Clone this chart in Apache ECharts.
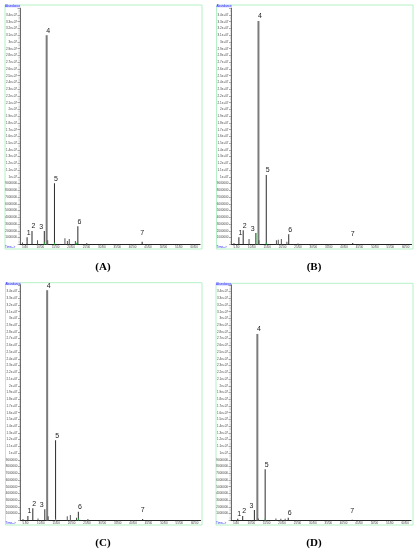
<!DOCTYPE html>
<html lang="en">
<head>
<meta charset="UTF-8">
<title>GC-MS chromatograms</title>
<script src="https://cdn.jsdelivr.net/npm/echarts@6/dist/echarts.min.js"></script>
<style>
    html, body { margin: 0; padding: 0; background: #fff; }
    #chart { width: 418px; height: 550px; }
</style>
</head>
<body>
<div id="chart"></div>
<script>
    // numbers written above the labelled peaks
    var peakNames = ['1', '2', '3', '4', '5', '6', '7'];

    // labelled peaks: retention time (min) and abundance, one pair per sample
    var timesA   = [5.7, 7.3, 11.3, 11.9, 14.6, 22.2, 43.1];
    var heightsA = [1050000, 2000000, 2000000, 31000000, 9050000, 2700000, 400000];
    var timesB   = [5.8, 7.2, 11.3, 12.0, 14.7, 22.0, 42.8];
    var heightsB = [1050000, 2100000, 1700000, 33100000, 10300000, 1500000, 200000];
    var timesC   = [5.8, 7.4, 11.3, 11.9, 14.8, 22.2, 43.1];
    var heightsC = [650000, 1800000, 1650000, 34200000, 11900000, 1300000, 200000];
    var timesD   = [5.6, 7.2, 11.0, 11.8, 14.5, 22.0, 42.8];
    var heightsD = [250000, 650000, 1550000, 27700000, 7600000, 400000, 100000];

    // small unlabelled peaks
    var minorTimesA   = [4.2, 9.1, 12.4, 18.0, 18.8, 19.4, 21.4, 25.1];
    var minorHeightsA = [300000, 600000, 600000, 900000, 500000, 800000, 500000, 200000];
    var minorTimesB   = [4.2, 9.1, 12.3, 18.0, 18.6, 19.6, 21.4, 25.0];
    var minorHeightsB = [200000, 800000, 600000, 600000, 700000, 800000, 400000, 150000];
    var minorTimesC   = [4.2, 9.1, 12.4, 18.6, 19.6, 21.6, 25.3];
    var minorHeightsC = [200000, 300000, 600000, 600000, 800000, 400000, 200000];
    var minorTimesD   = [12.3, 18.0, 19.6, 21.0];
    var minorHeightsD = [300000, 300000, 250000, 250000];

    // green integration marks
    var markTimesA   = [11.3, 14.6, 21.8];
    var markHeightsA = [300000, 250000, 250000];
    var markTimesB   = [11.3, 14.7];
    var markHeightsB = [1700000, 250000];
    var markTimesC   = [14.8, 22.2];
    var markHeightsC = [250000, 300000];
    var markTimesD   = [14.5];
    var markHeightsD = [250000];

    var xTicks = [5, 10, 15, 20, 25, 30, 35, 40, 45, 50, 55, 60];
    var panelNames = ['(A)', '(B)', '(C)', '(D)'];

    var panels = [
        { times: timesA, heights: heightsA, minorT: minorTimesA, minorH: minorHeightsA, markT: markTimesA, markH: markHeightsA },
        { times: timesB, heights: heightsB, minorT: minorTimesB, minorH: minorHeightsB, markT: markTimesB, markH: markHeightsB },
        { times: timesC, heights: heightsC, minorT: minorTimesC, minorH: minorHeightsC, markT: markTimesC, markH: markHeightsC },
        { times: timesD, heights: heightsD, minorT: minorTimesD, minorH: minorHeightsD, markT: markTimesD, markH: markHeightsD }
    ];

    // layout of the four plots and their frames
    var grids = [
        { left: 20, right: 218, top: 8.2, bottom: 305.6 },
        { left: 231.5, right: 6.5, top: 8.2, bottom: 305.6 },
        { left: 20.5, right: 217.5, top: 284.8, bottom: 29.6 },
        { left: 231, right: 7, top: 284.8, bottom: 29.6 }
    ];
    var frames = [
        { x: 5, y: 5, w: 197, h: 244 },
        { x: 216.5, y: 5, w: 196.5, h: 244 },
        { x: 5.5, y: 282.7, w: 196.5, h: 242.3 },
        { x: 216, y: 283.3, w: 197, h: 241.7 }
    ];
    var captions = [[103, 267], [314, 267], [103, 543], [314, 543]];
    var labelShift = { '3': [-3, 0.5], '7': [0, -4] };

    var chart = echarts.init(document.getElementById('chart'));

    var xAxes = [], yAxes = [], series = [], graphics = [];

    panels.forEach(function (p, i) {
        xAxes.push({
            type: 'value', gridIndex: i, min: 3.4, max: 61.9,
            axisLine: { lineStyle: { color: '#222', width: 1.2 } },
            axisTick: { customValues: xTicks, length: 2, lineStyle: { color: '#555', width: 0.5 } },
            axisLabel: {
                customValues: xTicks, fontSize: 3, color: '#444', margin: 1.5,
                fontFamily: 'Liberation Sans',
                formatter: function (v) { return v.toFixed(2); }
            },
            splitLine: { show: false }
        });
        yAxes.push({
            type: 'value', gridIndex: i, min: 0, max: 35000000, interval: 1000000,
            axisLine: { show: true, lineStyle: { color: '#444', width: 0.8 } },
            axisTick: { show: true, length: 2.5, lineStyle: { color: '#555', width: 0.5 } },
            minorTick: { show: true, splitNumber: 5, length: 1.5, lineStyle: { color: '#888', width: 0.4 } },
            axisLabel: {
                fontSize: 3, color: '#444', margin: 3, fontFamily: 'Liberation Sans',
                formatter: function (v) {
                    if (v <= 0 || v >= 35000000) return '';
                    if (v >= 10000000) return (v / 10000000) + 'e+07';
                    return String(v);
                }
            },
            splitLine: { show: false }
        });

        var main = [], big = [];
        p.times.forEach(function (t, k) {
            var item = {
                value: [t, p.heights[k]],
                label: {
                    show: true, formatter: peakNames[k], position: 'top', distance: 1,
                    offset: labelShift[peakNames[k]] || [1.5, 0],
                    fontSize: 7, color: '#222', fontFamily: 'Liberation Sans'
                }
            };
            if (peakNames[k] === '4') big.push(item); else main.push(item);
        });
        var minor = p.minorT.map(function (t, k) { return [t, p.minorH[k]]; });
        var marks = p.markT.map(function (t, k) { return [t, p.markH[k]]; });

        series.push({
            type: 'bar', xAxisIndex: i, yAxisIndex: i, barWidth: 2, barGap: '-100%',
            itemStyle: { color: '#7c7c7c' }, data: big, silent: true
        });
        series.push({
            type: 'bar', xAxisIndex: i, yAxisIndex: i, barWidth: 1, barGap: '-100%',
            itemStyle: { color: '#2b2b2b' }, data: main, silent: true
        });
        series.push({
            type: 'bar', xAxisIndex: i, yAxisIndex: i, barWidth: 0.8, barGap: '-100%',
            itemStyle: { color: '#555' }, data: minor, silent: true
        });
        series.push({
            type: 'bar', xAxisIndex: i, yAxisIndex: i, barWidth: 1, barGap: '-100%',
            itemStyle: { color: '#22c040' }, data: marks, silent: true, z: 3
        });

        var f = frames[i];
        graphics.push({
            type: 'rect', shape: { x: f.x, y: f.y, width: f.w, height: f.h },
            style: { fill: 'none', stroke: '#b6f0c6', lineWidth: 1 }, silent: true
        });
        graphics.push({
            type: 'text', x: f.x, y: f.y + 1,
            style: { text: 'Abundance', fontSize: 3, fill: '#2a2aff', fontFamily: 'Liberation Sans',
                     backgroundColor: '#d8dcff', verticalAlign: 'middle' }
        });
        graphics.push({
            type: 'text', x: f.x, y: f.y + f.h - 1.5,
            style: { text: 'Time-->', fontSize: 3, fill: '#2a2aff', fontFamily: 'Liberation Sans',
                     verticalAlign: 'middle' }
        });
        graphics.push({
            type: 'text', x: captions[i][0], y: captions[i][1],
            style: { text: panelNames[i], fontSize: 11, fontWeight: 'bold', fill: '#000',
                     fontFamily: 'Liberation Serif', align: 'center', verticalAlign: 'middle' }
        });
    });

    chart.setOption({
        animation: false,
        grid: grids,
        xAxis: xAxes,
        yAxis: yAxes,
        series: series,
        graphic: graphics
    });
</script>
</body>
</html>
